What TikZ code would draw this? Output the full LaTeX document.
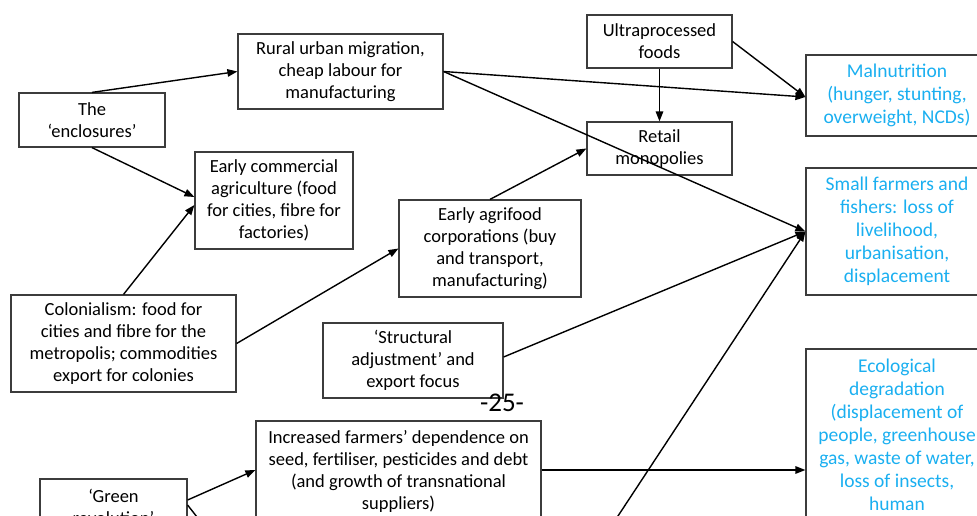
\documentclass[tikz,border=0pt]{standalone}
\usepackage{fontspec}
\setmainfont{Carlito}
\usetikzlibrary{arrows.meta}
\definecolor{boxline}{HTML}{3C3C3C}
\definecolor{outblue}{HTML}{1AAFF0}

\begin{document}
\begin{tikzpicture}[x=1pt,y=-1pt,
  box/.style={draw=boxline,line width=1.2pt,align=center,inner sep=0pt,
    font=\fontsize{18.5}{22}\selectfont},
  outbox/.style={box,text=outblue,font=\fontsize{19.5}{23}\selectfont},
  link/.style={line width=1.4pt,-{Triangle[length=10pt,width=7.5pt]}},
  plainlink/.style={line width=1.4pt}]
\useasboundingbox (0,0) rectangle (977,515);
\clip (0,0) rectangle (977,515);

% causes and drivers
\node[box,minimum width=146pt,minimum height=54pt] (encl) at (92,120) {The\\‘enclosures’};
\node[box,minimum width=205pt,minimum height=75pt] (rural) at (340.5,71.5)
  {Rural urban migration,\\cheap labour for\\manufacturing};
\node[box,minimum width=158pt,minimum height=97pt] (ecomm) at (274,200.5)
  {Early commercial\\agriculture (food\\for cities, fibre for\\factories)};
\node[box,minimum width=145pt,minimum height=53pt] (ultra) at (659.5,41.5)
  {Ultraprocessed\\foods};
\node[box,minimum width=145pt,minimum height=53pt] (retail) at (659.5,148.5)
  {Retail\\monopolies};
\node[box,minimum width=182pt,minimum height=97pt] (agri) at (490,248.5)
  {Early agrifood\\corporations (buy\\and transport,\\manufacturing)};
\node[box,minimum width=225pt,minimum height=97pt] (colon) at (123.5,343.5)
  {Colonialism: food for\\cities and fibre for the\\metropolis; commodities\\export for colonies};
\node[box,minimum width=180pt,minimum height=75pt] (struct) at (413,360.5)
  {‘Structural\\adjustment’ and\\export focus};
\node[box,minimum width=285pt,minimum height=101pt] (incr) at (398.5,471.5)
  {Increased farmers’ dependence on\\seed, fertiliser, pesticides and debt\\(and growth of transnational\\suppliers)};
\node[box,minimum width=147pt,minimum height=56pt] (green) at (113.5,507)
  {‘Green\\revolution’};

% outcomes
\node[outbox,minimum width=182pt,minimum height=81pt] (maln) at (897,95.5)
  {Malnutrition\\(hunger, stunting,\\overweight, NCDs)};
\node[outbox,minimum width=182pt,minimum height=127pt] (small) at (897,231.5)
  {Small farmers and\\fishers: loss of\\livelihood,\\urbanisation,\\displacement};
\node[outbox,minimum width=182pt,minimum height=172pt] (eco) at (897,435)
  {Ecological\\degradation\\(displacement of\\people, greenhouse\\gas, waste of water,\\loss of insects,\\human};

\node[font=\fontsize{27}{32}\selectfont,inner sep=0pt] (pageno) at (502,403) {-25-};

% free ends of connectors leaving the page
\coordinate (lowsrc) at (589,560);
\coordinate (greenout) at (215,540);

% connectors
\draw[link] (encl.north) -- (rural.west);
\draw[link] (encl.south) -- ([yshift=3.5pt]ecomm.west);
\draw[link] (colon.north) -- ([yshift=-4.5pt]ecomm.west);
\draw[link] (colon.east) -- (agri.west);
\draw[link] (agri.north) -- (retail.west);
\draw[link] (rural.east) -- ([yshift=-1.5pt]maln.west);
\draw[link] (rural.east) -- (small.west);
\draw[link] (ultra.east) -- ([yshift=-1.5pt]maln.west);
\draw[link] (ultra.south) -- (retail.north);
\draw[link] ([yshift=3.5pt]struct.east) -- (small.west);
\draw[link] (lowsrc) -- (small.west);
\draw[link] ([yshift=1.5pt]incr.east) -- ([yshift=-35pt]eco.west);
\draw[link] ([yshift=7pt]green.east) -- ([yshift=1.5pt]incr.west);
\draw[plainlink] ([yshift=2pt]green.east) -- (greenout);
\end{tikzpicture}
\end{document}
